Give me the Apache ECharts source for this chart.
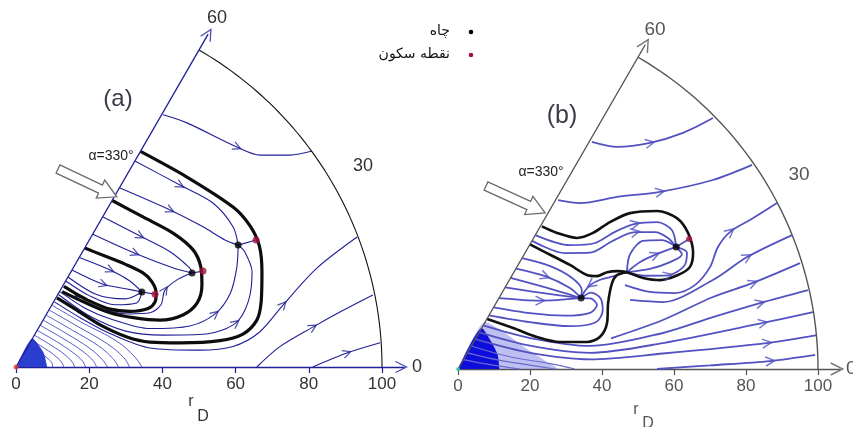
<!DOCTYPE html>
<html><head><meta charset="utf-8">
<script src="https://cdn.jsdelivr.net/npm/echarts@6/dist/echarts.min.js"></script>
<style>html,body{margin:0;padding:0;background:#fff;}#c{width:853px;height:427px;}</style>
</head><body><div id="c"></div>
<script>
// ---------- shared ----------
const rTicks = [0, 20, 40, 60, 80, 100];
const rAxisEnd = 106;
const angleLabels = ['0', '30', '60'];
const legendNames = ['چاه', 'نقطه سکون'];
const panelTitles = ['(a)', '(b)'];
const angleNote = 'α=330°';

// ---------- panel (a): streamlines, data units (x = r cos θ, y = r sin θ) ----------
const topA = [[40.2,68.9],[46.7,66.7],[60.4,60.1],[66.7,57.9],[74.9,57.9],[80.9,59.0]];
const b1A = [[32.5,56.3],[44.8,49.7],[53.8,44.8],[59.3,38.3],[60.7,33.3]];
const b2A = [[28.4,48.9],[42.1,42.9],[51.1,38.3],[57.1,34.7],[60.7,33.3]];
const b3A = [[12,20.6],[19,16],[25.7,13.2],[36.6,10.5],[47.5,11.2],[54.4,14.5],[58.5,20],[60.3,27],[60.7,33.3]];
const b4A = [[11.6,19.8],[20,14],[30,9.8],[40.2,8.7],[52,9],[60,12],[63.5,18],[64.5,26],[62.5,31.5],[60.7,33.3]];
const c1A = [[23.8,41],[33.9,35.8],[42.1,31.5],[47.5,27],[48.1,25.7]];
const c2A = [[21,36.3],[32.5,31.1],[43.2,27],[48.1,25.7]];
const c3A = [[16,19.5],[20,18.2],[25.7,15.3],[31.1,14.5],[36.6,14.8],[39.6,17],[40.7,21],[44.3,24],[48.1,25.7]];
const d1A = [[17.3,29.9],[25.7,26.5],[31.1,23.5],[34.4,20.5]];
const d2A = [[15.3,26.5],[23.8,22.6],[30,21.4],[34.4,20.5]];
const d3A = [[14.2,24.6],[22,19.8],[29.8,18.6],[34.4,20.5]];
const d4A = [[13.6,23.5],[20,19.5],[27,17],[33,17.5],[34.4,20.5]];
const laA = [[10.5,17.8],[18,13.2],[26,9],[36.6,5.2],[50.3,4.6],[59.3,5.6],[66.5,9.5],[73,17],[82.2,27],[93.2,35.5]];
const lbA = [[65.8,0],[72,5.5],[81.1,10.9],[89,15.3],[97.5,19.7]];
const lcA = [[81.1,0],[90.4,3.8],[99.5,6.6]];
const link1A = [[34.4,20.5],[38,19.9]];
const link2A = [[48.1,25.7],[51.1,26.2]];
const link3A = [[60.7,33.3],[65.6,34.7]];
// dense near-origin curves (a)
const n1A = [[9.8,16.9],[18.3,12],[27.6,7],[32.5,2.7],[34.4,0]];
const n2A = [[9,15.6],[17,11],[25,6.3],[29.5,2.5],[31,0]];
const n3A = [[8.2,14.2],[15.5,10],[22.5,5.8],[26.5,2.3],[28,0]];
const n4A = [[7.4,12.8],[14,9],[20,5.2],[23.6,2],[25,0]];
const n5A = [[6.6,11.4],[12.5,8],[17.8,4.6],[21,1.8],[22,0]];
const n6A = [[5.8,10],[11,7],[15.5,4],[18.2,1.6],[19,0]];
const n7A = [[5,8.7],[9.5,6],[13.3,3.4],[15.4,1.3],[16,0]];
const n8A = [[4.2,7.3],[8,5],[11,2.8],[12.6,1.1],[13,0]];
const n9A = [[3.4,5.9],[6.5,4],[8.8,2.2],[9.9,0.9],[10,0]];
const coreA = [[0,0],[4.5,7.8],[7.5,4],[8.5,0]];
// separatrices (a)
const sepOuterA = [[34,58.9],[46.7,51.9],[59.3,43.7],[64,38.5],[66.5,33],[67.2,26],[67,18],[65.8,12.8],[62,9],[55.7,7.2],[45,6.6],[36.6,6.8],[30.3,8.2],[23,11.5],[16.7,15.5],[11.2,18.9]];
const sepMiddleA = [[26.3,45.5],[34.7,41],[42.9,36.6],[48.4,32],[50.5,27.3],[50.8,22.4],[49.5,17.5],[45.6,14.2],[39.3,12.8],[32.5,13.4],[25.7,14.8],[18.9,17.6],[12.6,20.6]];
const sepInnerA = [[18.8,32.5],[24.3,30.3],[29.8,28.1],[34.7,25.7],[37.2,23.2],[38.3,20.2],[38,17.8],[36.1,16],[31.1,15.2],[25.7,15.8],[20.2,18],[16.1,20.2],[13.1,22]];
const sinksA = [[34.4,20.5],[48.1,25.7],[60.7,33.3]];
const stagA = [[38,19.9],[51.1,26.2],[65.6,34.7]];

// ---------- panel (b) ----------
const topB = [[37.2,63.1],[44.2,61.7],[53.3,62.8],[62.5,65.6],[70.8,69.7]];
const secondB = [[27.8,46.9],[33.9,46.1],[44.2,47.8],[56.1,49.2],[70.8,52.5],[81.7,56.7]];
const f1B = [[46.4,23.3],[53.3,21.4],[60.3,21.1],[65.8,23.3],[70,28.3],[72.2,33.9],[75.6,38.1],[81.1,41.4],[88.6,46.1]];
const f2B = [[47.8,19.2],[56.9,18.6],[70.8,24.7],[80.3,31.1],[92.8,37.2]];
const f3B = [[42.5,8.5],[56.9,13.6],[70.8,20],[81.9,23.9],[95,29.4]];
const f4B = [[7,12.1],[20,8.6],[36.7,6.4],[56.9,10],[70.8,14.4],[83.9,18.3],[97.2,21.9]];
const f5B = [[5.9,10.2],[20,6.5],[36.7,4.5],[56.9,7.2],[84.7,12.8],[98.6,15.8]];
const f6B = [[4.8,8.3],[20,4.5],[36.7,2.7],[56.9,4.3],[85.8,7.2],[99.7,9.4]];
const f7B = [[55.3,0],[70,1],[86.7,2.2],[99.2,3.9]];
const r1B = [[3.7,6.4],[14.4,3.4],[25.6,1.5],[32.5,0]];
const r2B = [[2.6,4.5],[11.7,2.4],[20,1.1],[26.9,0]];
const r3B = [[1.5,2.6],[8.9,1.2],[17.2,0]];
const e1B = [[17.8,30.8],[25.6,28.6],[31.7,25.3],[34.4,21.9],[34.2,19.7]];
const e2B = [[16.1,27.9],[24.2,25.8],[31.1,22.5],[34.2,19.7]];
const e3B = [[14.6,25.3],[22.8,23.1],[29.7,21.1],[34.2,19.7]];
const e4B = [[13.1,22.7],[22.8,21.2],[34.2,19.7]];
const e5B = [[11.4,19.7],[22.8,19],[34.2,19.7]];
const e6B = [[9.9,17.1],[20,15.5],[29.7,14.8],[36.7,15.6],[38.6,17.8],[36.8,19.6],[34.2,19.7]];
const e7B = [[8.6,14.9],[20,13],[31.1,11.9],[38.3,13],[40.2,16.3],[39.6,19.6],[37,21.2],[34.2,19.7]];
const ssB = [[46.9,26.9],[42.5,25.6],[39.5,24.8],[37,23.5],[35.2,21.6],[34.2,19.7]];
const g1B = [[46.9,26.9],[47.8,31.9],[51.4,35.6],[56.7,35.8],[60.6,33.9]];
const g2B = [[46.9,26.9],[50.6,29.7],[54.7,31.7],[60.6,33.9]];
const g3B = [[46.9,26.9],[53.3,27.8],[58.9,29.7],[62.2,31.8],[60.6,33.9]];
const g4B = [[46.9,26.9],[51.9,25.9],[58.3,26],[62.8,28.6],[63.6,32.3],[60.6,33.9]];
const h1B = [[21.5,37.2],[31.1,34.4],[38.1,35],[43.6,38.1],[49.2,40.3],[55.3,40.8],[59.4,38.6],[60.6,33.9]];
const h2B = [[20.6,35.6],[29.7,32.2],[36.7,32.3],[42.8,35.5],[49.2,38],[54.7,38],[58.3,36.4],[60.6,33.9]];
const link1B = [[60.6,33.9],[64.2,36.1]];
const haloB = [[0,0],[7.6,13.1],[13,10],[20,5],[28,0]];
const coreB = [[0,0],[6.6,11.4],[9,8],[11,4],[11.5,0]];
const sep1B = [[23.3,39.6],[27.5,37.8],[33.1,36.4],[37.5,37.8],[42.2,40.8],[47.8,43.3],[55.3,43.9],[60.8,41.9],[63.9,37.8],[65.3,32.2],[64.4,28.3],[61.1,26.1],[56.1,24.7],[51.4,25.3],[48.3,26.4],[46.9,26.9]];
const sep2B = [[20,34.6],[24.7,32.2],[31.1,28.9],[35.8,26.1],[38.6,25.8],[41.4,26.9],[44.4,27.2],[46.9,26.9]];
const sep3B = [[46.9,26.9],[44.2,26.1],[42.8,23.9],[41.7,18.3],[41.4,12.8],[39.4,8.9],[35.8,7.5],[28.3,7.5],[21.9,8.9],[15.3,11.4],[8.1,13.9]];
const sinksB = [[34.2,19.7],[60.6,33.9]];
const stagB = [[64.2,36.1]];

// which vertex of each streamline carries a flow arrow (null = none)
const thinA = [topA,b1A,b2A,b3A,b4A,c1A,c2A,c3A,d1A,d2A,d3A,d4A,laA,lbA,lcA,link1A,link2A,link3A];
const arrowA = [2,1,1,5,5,1,1,6,1,1,null,null,7,2,1,null,null,null];
const denseA = [n1A,n2A,n3A,n4A,n5A,n6A,n7A,n8A,n9A];
const sepA = [sepOuterA, sepMiddleA, sepInnerA];
const thinB = [topB,secondB,f1B,f2B,f3B,f4B,f5B,f6B,f7B,e1B,e2B,e3B,e4B,e5B,e6B,e7B,ssB,g1B,g2B,g3B,g4B,h1B,h2B,link1B];
const arrowB = [2,3,6,3,3,5,4,4,2,null,1,null,null,1,null,null,3,null,2,null,2,4,4,null];
const denseB = [r1B,r2B,r3B];
const sepB = [sep1B, sep2B, sep3B];

// ---------- build ----------
const CHEV = 'path://M0,0L10,5L0,10';
const series = [];
function line(data, gi, color, width, z, smooth) {
  series.push({type:'line', xAxisIndex:gi, yAxisIndex:gi, data:data, showSymbol:false, symbol:'none',
    smooth: smooth === undefined ? 0.3 : smooth, clip:false, silent:true, animation:false, z:z||2,
    lineStyle:{color:color, width:width}});
}
function area(data, gi, color, z) {
  series.push({type:'line', xAxisIndex:gi, yAxisIndex:gi, data:data, showSymbol:false, symbol:'none',
    smooth:0.2, clip:false, silent:true, animation:false, z:z||1,
    lineStyle:{width:0, color:color}, areaStyle:{color:color, opacity:1}});
}
function arrowPts(list, idx) {
  const out = [];
  list.forEach((pts, k) => {
    const i = idx[k];
    if (i === null || i === undefined) return;
    const a = pts[Math.max(0, i-1)], b = pts[Math.min(pts.length-1, i+1)];
    const ang = Math.atan2(b[1]-a[1], b[0]-a[0]) * 180 / Math.PI;
    out.push({value: pts[i], symbolRotate: ang});
  });
  return out;
}
function chevrons(data, gi, color, size, width) {
  series.push({type:'scatter', xAxisIndex:gi, yAxisIndex:gi, data:data, symbol:CHEV, symbolSize:size,
    clip:false, silent:true, animation:false, z:6,
    itemStyle:{color:'rgba(0,0,0,0)', borderColor:color, borderWidth:width}});
}
function dots(data, gi, color, size) {
  series.push({type:'scatter', xAxisIndex:gi, yAxisIndex:gi, data:data, symbol:'circle', symbolSize:size,
    clip:false, silent:true, animation:false, z:8, itemStyle:{color:color}});
}
function arc(r, a0, a1) {
  const p = [];
  for (let a = a0; a <= a1; a += 1) p.push([r*Math.cos(a*Math.PI/180), r*Math.sin(a*Math.PI/180)]);
  return p;
}
function ray(r, a) { return [[0,0],[r*Math.cos(a*Math.PI/180), r*Math.sin(a*Math.PI/180)]]; }

// panel a
const navy = '#1f1f96';
area(coreA, 0, '#2a3fd0', 1);
denseA.forEach(d => line(d, 0, '#3030b8', 0.8, 2, 0.4));
thinA.forEach(d => line(d, 0, navy, 1.1, 3));
sepA.forEach(d => line(d, 0, '#0d0d0d', 3.2, 4));
chevrons(arrowPts(thinA, arrowA), 0, navy, 8, 1.2);
line(arc(100, 0, 60), 0, '#111', 1.1, 3, false);
line(ray(105, 60), 0, navy, 1.3, 5, false);
chevrons([{value:[rAxisEnd-0.8,0], symbolRotate:0},{value:ray(105,60)[1], symbolRotate:60}], 0, navy, 11, 1.3);
dots([[0,0]], 0, '#e0402a', 5);
dots(sinksA, 0, '#000', 7);
dots(stagA, 0, '#a3123c', 7);

// panel b
const purple = '#5252c2';
area(haloB, 1, 'rgba(95,95,220,0.4)', 1);
area(coreB, 1, '#0d0ddc', 1);
denseB.forEach(d => line(d, 1, '#6a6ad0', 1.2, 2, 0.4));
thinB.forEach(d => line(d, 1, purple, 1.8, 3));
sepB.forEach(d => line(d, 1, '#111', 2.6, 4));
chevrons(arrowPts(thinB, arrowB), 1, purple, 9, 1.5);
line(arc(100, 0, 60), 1, '#555', 1.4, 3, false);
line(ray(104, 60), 1, '#555', 1.4, 5, false);
chevrons([{value:[rAxisEnd-0.8,0], symbolRotate:0},{value:ray(104,60)[1], symbolRotate:60}], 1, '#555', 12, 1.4);
dots([[0,0]], 1, '#30d0c0', 4);
dots(sinksB, 1, '#000', 7);
dots(stagB, 1, '#b01040', 6);

function xAx(gi, lineColor, labelColor) {
  return {gridIndex:gi, type:'value', min:rTicks[0], max:rAxisEnd, interval:rTicks[1]-rTicks[0],
    axisLine:{show:true, onZero:false, lineStyle:{color:lineColor, width:1.4}}, splitLine:{show:false},
    axisTick:{show:true, length:6, customValues:rTicks, lineStyle:{color:lineColor, width:1.2}},
    axisLabel:{fontSize:17, color:labelColor, margin:9, fontFamily:'Liberation Sans, Arial', customValues:rTicks,
      formatter: v => (rTicks.indexOf(v) >= 0 ? String(v) : '')}};
}
function yAx(gi) { return {gridIndex:gi, type:'value', min:0, max:100, show:false}; }

function txt(x, y, text, size, color, align, family) {
  return {type:'text', x:x, y:y, z:20, silent:true, style:{text:text, fill:color,
    font: size + 'px ' + (family || '"Liberation Sans", Arial'),
    align: align || 'center', verticalAlign:'middle', textAlign: align || 'center', textVerticalAlign:'middle'}};
}
function hollowArrow(x, y, len, angDeg) {
  return {type:'polygon', x:x, y:y, rotation: -angDeg*Math.PI/180, z:20, silent:true,
    shape:{points:[[0,-4.5],[len-18,-4.5],[len-18,-10],[len,0],[len-18,10],[len-18,4.5],[0,4.5]]},
    style:{fill:'#fff', stroke:'#6a6a6a', lineWidth:1.3}};
}

const option = {
  backgroundColor:'#fff',
  animation:false,
  grid:[
    {left:16, width:3.66*rAxisEnd, top:1, height:366},
    {left:458, width:3.6*rAxisEnd, top:9, height:360}
  ],
  xAxis:[xAx(0, navy, '#333'), xAx(1, '#555', '#555')],
  yAxis:[yAx(0), yAx(1)],
  series: series,
  graphic:[
    txt(217, 18, angleLabels[2], 18, '#333'),
    txt(363, 166, angleLabels[1], 18, '#333'),
    txt(417, 367, angleLabels[0], 18, '#333'),
    txt(655, 30, angleLabels[2], 19, '#555'),
    txt(799, 175, angleLabels[1], 19, '#555'),
    txt(846, 369, angleLabels[0], 19, '#555', 'left'),
    txt(118, 99, panelTitles[0], 24, '#3a3a4a'),
    txt(562, 116, panelTitles[1], 25, '#3a3a4a'),
    txt(111, 156, angleNote, 14, '#222'),
    txt(541, 172, angleNote, 14, '#222'),
    txt(191, 402, 'r', 16, '#333'),
    txt(203, 417, 'D', 16, '#333'),
    txt(636, 410, 'r', 16, '#555'),
    txt(648, 424, 'D', 16, '#555'),
    hollowArrow(58, 169, 65, 25.3),
    hollowArrow(486, 186, 65, 24.5),
    {type:'circle', shape:{cx:471, cy:32, r:2.3}, style:{fill:'#000'}, z:20, silent:true},
    {type:'circle', shape:{cx:471, cy:55, r:2.3}, style:{fill:'#a3123c'}, z:20, silent:true},
    txt(450, 31, legendNames[0], 14, '#111', 'right', '"DejaVu Sans"'),
    txt(450, 54, legendNames[1], 14, '#111', 'right', '"DejaVu Sans"')
  ]
};
const chart = echarts.init(document.getElementById('c'));
chart.setOption(option);
</script>
</body></html>
